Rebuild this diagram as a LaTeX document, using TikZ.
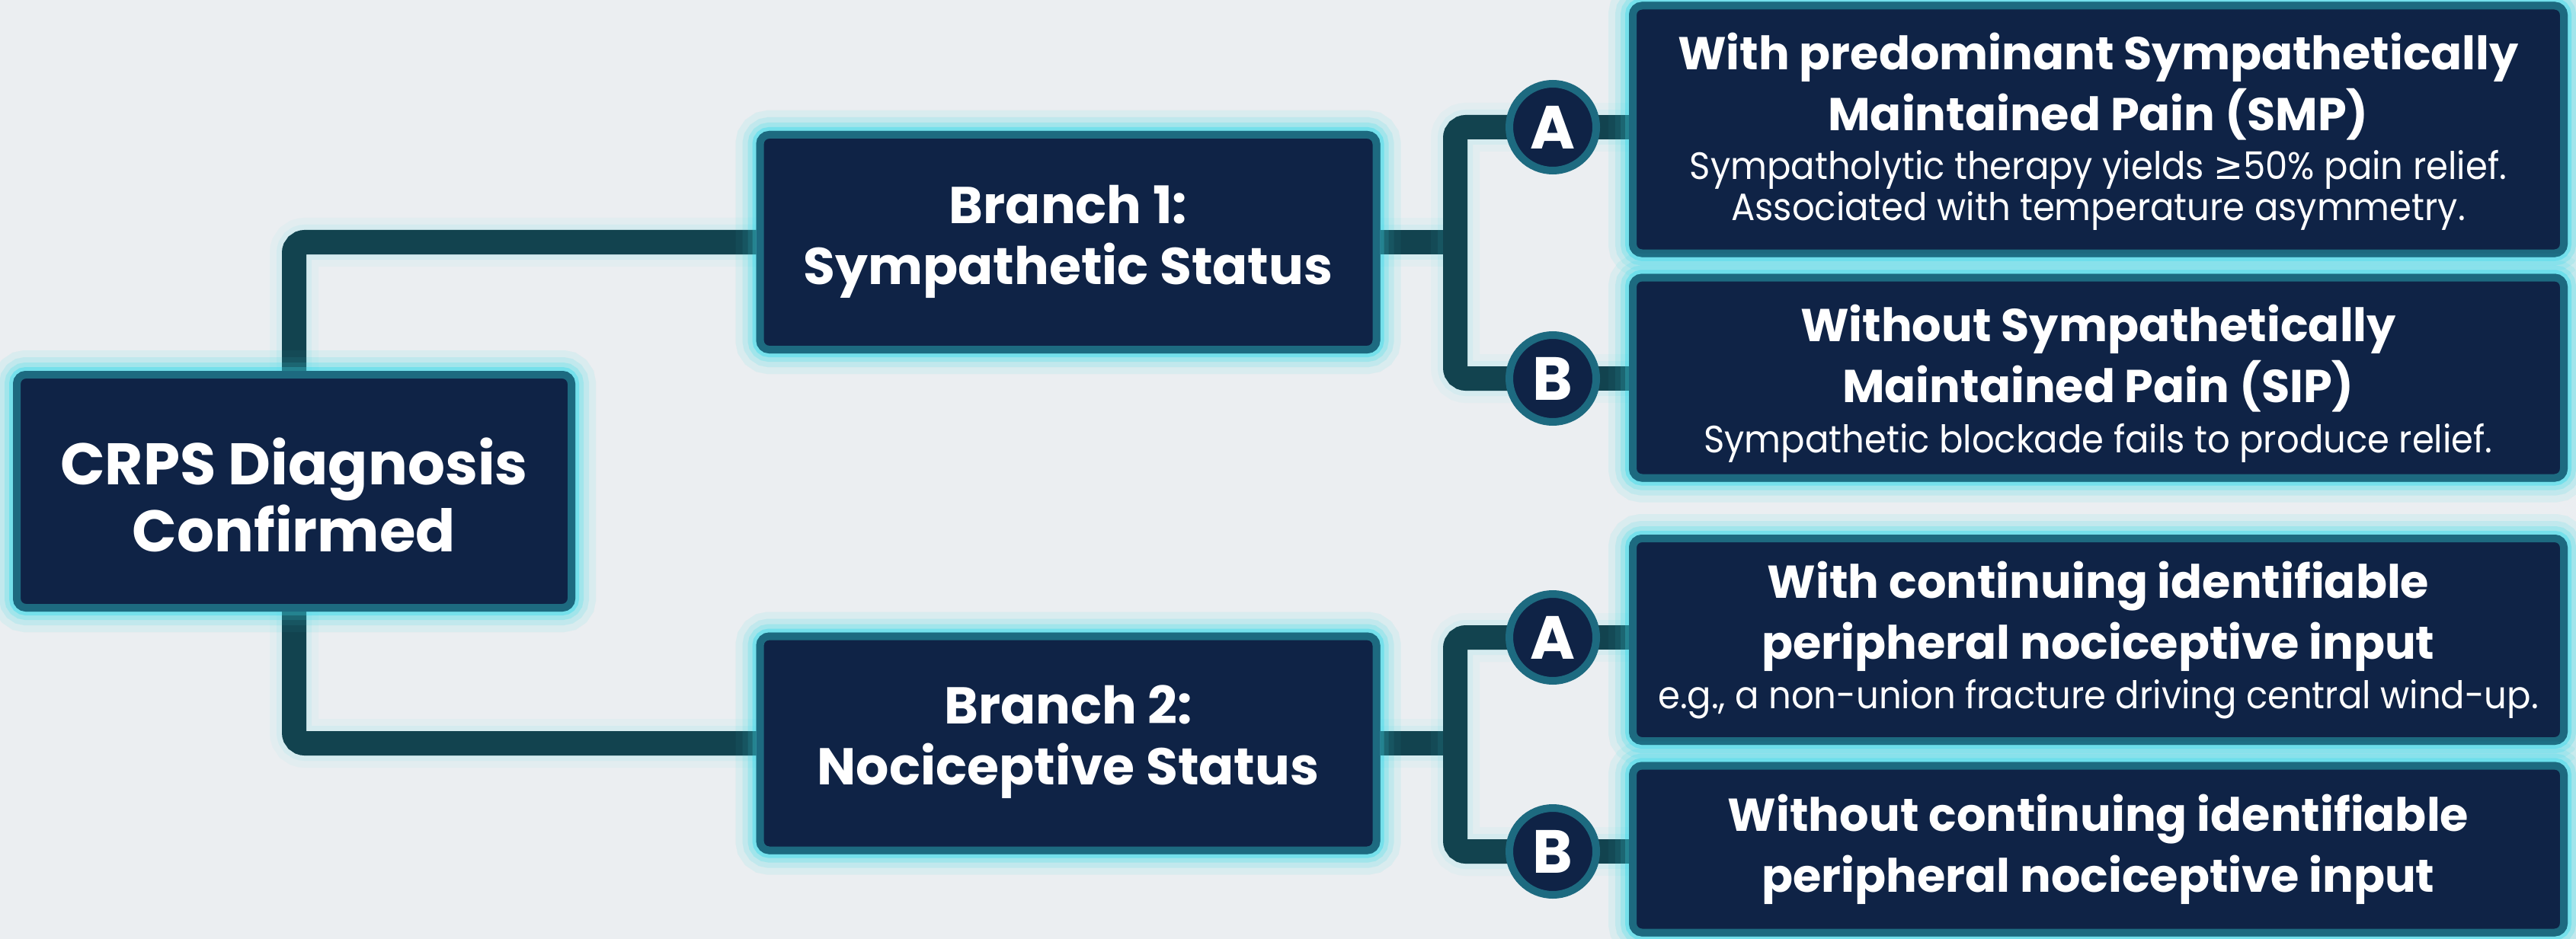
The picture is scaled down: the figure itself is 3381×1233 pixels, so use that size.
\documentclass[tikz,border=0pt]{standalone}
\usepackage{fontspec}
\setmainfont{Poppins}
\newfontfamily\subfam[FakeStretch=0.93]{Poppins}
\newfontfamily\dejavu[FakeStretch=0.93]{DejaVu Sans}
\definecolor{bgc}{HTML}{EBEEF1}
\definecolor{navy}{HTML}{0F2346}
\definecolor{rim}{HTML}{1D6A80}
\definecolor{glowc}{HTML}{3FDDEB}
\definecolor{connc}{HTML}{12434F}
\tikzset{
  glowy/.style={
    preaction={draw=glowc,line width=64pt,draw opacity=0.05},
    preaction={draw=glowc,line width=46pt,draw opacity=0.08},
    preaction={draw=glowc,line width=32pt,draw opacity=0.13},
    preaction={draw=glowc,line width=20pt,draw opacity=0.25}},
  navybox/.style={glowy,rectangle,rounded corners=12pt,fill=navy,draw=rim,
    line width=10pt,inner sep=0pt},
  conn/.style={glowy,draw=connc,line width=32pt,rounded corners=14pt},
  badge/.style={circle,fill=navy,draw=rim,line width=10pt,minimum size=114pt,
    inner sep=0pt,text=white,font=\bfseries\fontsize{80}{80}\selectfont},
  bigtxt/.style={text=white,align=center,inner sep=0pt,font=\bfseries\fontsize{77}{88}\selectfont},
  brtxt/.style={text=white,align=center,inner sep=0pt,font=\bfseries\fontsize{68}{80}\selectfont},
  ttltxt/.style={text=white,align=center,inner sep=0pt,font=\bfseries\fontsize{60.5}{80}\selectfont},
  subtxt/.style={text=white,align=center,inner sep=0pt,font=\subfam\fontsize{50}{54}\selectfont},
}
\begin{document}
\begin{tikzpicture}[x=1pt,y=-1pt]
\useasboundingbox (0,0) rectangle (3381,1233);
\fill[bgc] (0,0) rectangle (3381,1233);
% boxes (placed first so connectors can reference them)
\path
  (386,645)   node[navybox,minimum width=728pt,minimum height=306pt] (crps) {}
  (1402,318)  node[navybox,minimum width=809pt,minimum height=282pt] (b1) {}
  (1402,976)  node[navybox,minimum width=809pt,minimum height=281pt] (b2) {}
  (2754,170)  node[navybox,minimum width=1222pt,minimum height=325pt] (r1a) {}
  (2754,496)  node[navybox,minimum width=1222pt,minimum height=263pt] (r1b) {}
  (2754,840)  node[navybox,minimum width=1222pt,minimum height=266pt] (r2a) {}
  (2754,1115) node[navybox,minimum width=1222pt,minimum height=219pt] (r2b) {};
\coordinate (j1) at (1910,318);
\coordinate (j2) at (1910,976);
\coordinate (p1a) at (2038,167);
\coordinate (p1b) at (2038,497);
\coordinate (p2a) at (2038,837);
\coordinate (p2b) at (2038,1118);
% connectors
\draw[conn] (crps.north) |- (b1.west);
\draw[conn] (crps.south) |- (b2.west);
\draw[conn] (b1.east) -- (j1);
\draw[conn] (b2.east) -- (j2);
\draw[conn] (p1a) -| (j1) |- (p1b);
\draw[conn] (p2a) -| (j2) |- (p2b);
\draw[conn] (p1a) -- (r1a.west |- p1a);
\draw[conn] (p1b) -- (r1b.west |- p1b);
\draw[conn] (p2a) -- (r2a.west |- p2a);
\draw[conn] (p2b) -- (r2b.west |- p2b);
% redraw boxes on top of connectors
\path
  (386,645)   node[navybox,minimum width=728pt,minimum height=306pt] (crpsf) {}
  (1402,318)  node[navybox,minimum width=809pt,minimum height=282pt] (b1f) {}
  (1402,976)  node[navybox,minimum width=809pt,minimum height=281pt] (b2f) {}
  (2754,170)  node[navybox,minimum width=1222pt,minimum height=325pt] (r1af) {}
  (2754,496)  node[navybox,minimum width=1222pt,minimum height=263pt] (r1bf) {}
  (2754,840)  node[navybox,minimum width=1222pt,minimum height=266pt] (r2af) {}
  (2754,1115) node[navybox,minimum width=1222pt,minimum height=219pt] (r2bf) {};
% badges
\node[badge] (c1a) at (p1a) {A};
\node[badge] (c1b) at (p1b) {B};
\node[badge] (c2a) at (p2a) {A};
\node[badge] (c2b) at (p2b) {B};
% texts
\node[bigtxt] (tcrps) at (386,650) {CRPS Diagnosis\\Confirmed};
\node[brtxt] (tb1) at (1402,317) {Branch 1:\\Sympathetic Status};
\node[brtxt] (tb2) at (1402,974) {Branch 2:\\Nociceptive Status};
\node[ttltxt] (t1a) at (2754,114) {With predominant Sympathetically\\Maintained Pain (SMP)};
\node[subtxt] (s1a) at (2754,250) {Sympatholytic therapy yields {\dejavu ≥}50\% pain relief.\\Associated with temperature asymmetry.};
\node[ttltxt] (t1b) at (2754,471) {Without Sympathetically\\Maintained Pain (SIP)};
\node[subtxt] (s1b) at (2754,582) {Sympathetic blockade fails to produce relief.};
\node[ttltxt] (t2a) at (2754,809) {With continuing identifiable\\peripheral nociceptive input};
\node[subtxt] (s2a) at (2754,918) {e.g., a non-union fracture driving central wind-up.};
\node[ttltxt] (t2b) at (2754,1115) {Without continuing identifiable\\peripheral nociceptive input};
\end{tikzpicture}
\end{document}
